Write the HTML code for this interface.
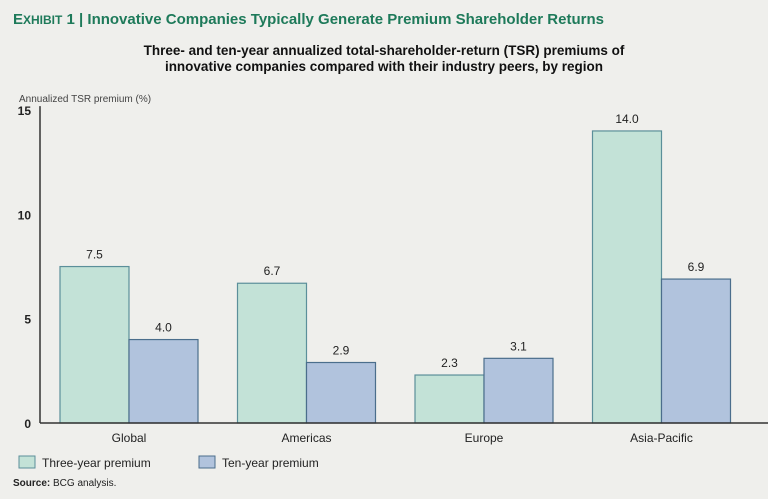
<!DOCTYPE html>
<html><head><meta charset="utf-8"><style>
body{margin:0;background:#efefec;width:768px;height:499px;overflow:hidden;font-family:"Liberation Sans",sans-serif}
</style></head><body>
<svg width="768" height="499" style="position:absolute;left:0;top:0">
<text x="13" y="24" fill="#1e7a5a" font-weight="bold" font-size="15"><tspan font-size="15">E</tspan><tspan font-size="12">XHIBIT</tspan> 1 | Innovative Companies Typically Generate Premium Shareholder Returns</text>
<text x="384" y="55" text-anchor="middle" font-weight="bold" font-size="13.5" fill="#111">Three- and ten-year annualized total-shareholder-return (TSR) premiums of</text>
<text x="384" y="71" text-anchor="middle" font-weight="bold" font-size="13.5" fill="#111">innovative companies compared with their industry peers, by region</text>
<text x="19" y="102" font-size="10" fill="#444">Annualized TSR premium (%)</text>
<g id="axes"></g><g id="bars"></g>
<rect x="19" y="456" width="16" height="12" fill="#c3e2d7" stroke="#5b8f9a"/>
<text x="42" y="467" font-size="12" fill="#222">Three-year premium</text>
<rect x="199" y="456" width="16" height="12" fill="#b1c3dd" stroke="#4b6e8c"/>
<text x="222" y="467" font-size="12" fill="#222">Ten-year premium</text>
<text x="13" y="486" font-size="10" fill="#222"><tspan font-weight="bold">Source:</tspan> BCG analysis.</text>
</svg>
<script>
const categories=["Global","Americas","Europe","Asia-Pacific"];
const threeYear=[7.5,6.7,2.3,14.0];
const tenYear=[4.0,2.9,3.1,6.9];
const yTicks=[0,5,10,15];
const NS="http://www.w3.org/2000/svg";
const y0=423,pxPer=20.86,x0=40,groupW=177.5,barW=69,gx0=60;
const y=v=>y0-v*pxPer;
const gX=i=>gx0+i*groupW;
function mk(t,a,p,txt){const e=document.createElementNS(NS,t);for(const k in a)e.setAttribute(k,a[k]);if(txt!==undefined)e.textContent=txt;p.appendChild(e);return e;}
const ax=document.getElementById('axes'),bg=document.getElementById('bars');
yTicks.forEach(t=>{const e=mk('text',{x:31,y:y(t)+5,'text-anchor':'end','font-size':12,'font-weight':'bold',fill:'#222'},ax,String(t));

});
categories.forEach((c,i)=>{
 const s=[[threeYear[i],'#c3e2d7','#5b8f9a','three-year'],[tenYear[i],'#b1c3dd','#4b6e8c','ten-year']];
 s.forEach((d,j)=>{const x=gX(i)+j*barW;
  const r=mk('rect',{x:x,y:y(d[0]),width:barW,height:y0-y(d[0]),fill:d[1],stroke:d[2],'stroke-width':1.2},bg);
  
  
  const l=mk('text',{x:x+barW/2,y:y(d[0])-8,'text-anchor':'middle','font-size':12,fill:'#222'},bg,d[0].toFixed(1));
  
  });
 const cl=mk('text',{x:gX(i)+barW,y:442,'text-anchor':'middle','font-size':12,fill:'#222'},ax,c);
 
 
});
const ya=mk('line',{x1:x0,y1:y(15)-4,x2:x0,y2:y0,stroke:'#333','stroke-width':1.5},bg);


const xa=mk('line',{x1:x0,y1:y0,x2:768,y2:y0,stroke:'#333','stroke-width':1.5},bg);


</script>
</body></html>
